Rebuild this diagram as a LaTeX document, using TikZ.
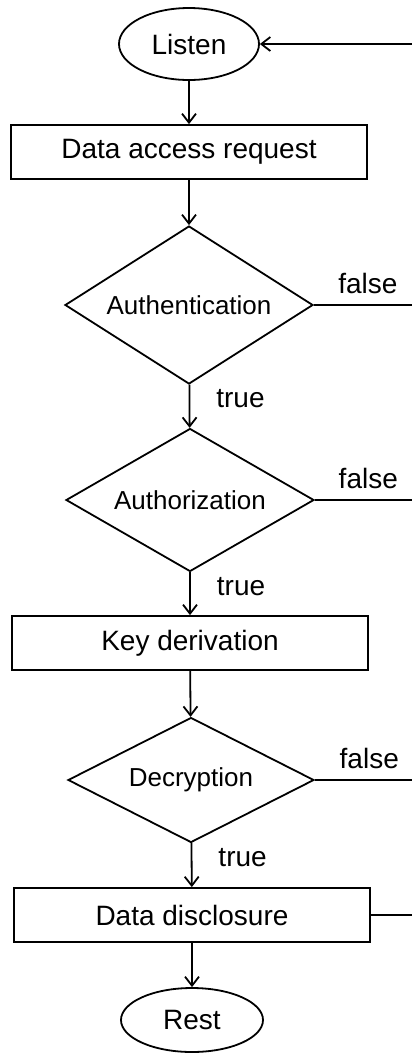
\documentclass[tikz,border=0pt]{standalone}
\usepackage{fontspec}
\setmainfont{Liberation Sans}
\usetikzlibrary{shapes.geometric,arrows.meta}

\begin{document}
\begin{tikzpicture}[x=0.5pt,y=-0.5pt,
    every node/.style={font=\fontsize{14}{17}\selectfont},
    terminal/.style={draw,ellipse,line width=0.9pt,inner sep=0pt,minimum width=70pt,minimum height=36pt},
    process/.style={draw,rectangle,line width=0.9pt,inner sep=0pt,minimum width=178pt,minimum height=27pt},
    decision/.style={draw,diamond,line width=0.9pt,inner sep=0pt,shape aspect=2,font=\fontsize{13}{16}\selectfont},
    flow/.style={line width=0.9pt,-{Straight Barb[length=4.5pt,width=7pt]}},
    branch/.style={line width=0.9pt},
    lbl/.style={inner sep=1pt}]
    \useasboundingbox (0,0) rectangle (412,1057);% keep the page size
    % the steps, top to bottom
    \node[terminal] (listen) at (189,44) {Listen};
    \node[process] (request) at (189,152) {Data access request};
    \node[decision,minimum width=124pt,minimum height=79pt] (authn) at (189,305) {Authentication};
    \node[decision,minimum width=124pt,minimum height=71.5pt] (authz) at (190,500) {Authorization};
    \node[process] (keyder) at (190,643) {Key derivation};
    \node[decision,minimum width=123pt,minimum height=62.5pt] (decrypt) at (191,780) {Decryption};
    \node[process] (disclose) at (192,915) {Data disclosure};
    \node[terminal,minimum width=71pt,minimum height=32pt] (rest) at (192,1020) {Rest};
    % loose ends at the right border
    \coordinate (back) at (412,44);
    \coordinate (fail1) at (412,305);
    \coordinate (fail2) at (412,500);
    \coordinate (fail3) at (412,780);
    \coordinate (done) at (412,915);
    % main flow
    \draw[flow] (listen) -- (request);
    \draw[flow] (request) -- (authn);
    \draw[flow] (authn) -- (authz) node[lbl,pos=0.33,right=12pt] (t1) {true};
    \draw[flow] (authz) -- (keyder) node[lbl,pos=0.33,right=12pt] (t2) {true};
    \draw[flow] (keyder) -- (decrypt);
    \draw[flow] (decrypt) -- (disclose) node[lbl,pos=0.33,right=12pt] (t3) {true};
    \draw[flow] (disclose) -- (rest);
    % branches to the right
    \draw[branch] (authn.east) -- (fail1) node[lbl,pos=0.55,above=4pt] (f1) {false};
    \draw[branch] (authz.east) -- (fail2) node[lbl,pos=0.55,above=4pt] (f2) {false};
    \draw[branch] (decrypt.east) -- (fail3) node[lbl,pos=0.56,above=4pt] (f3) {false};
    \draw[branch] (disclose.east) -- (done);
    \draw[flow] (back) -- (listen.east);
\end{tikzpicture}
\end{document}
